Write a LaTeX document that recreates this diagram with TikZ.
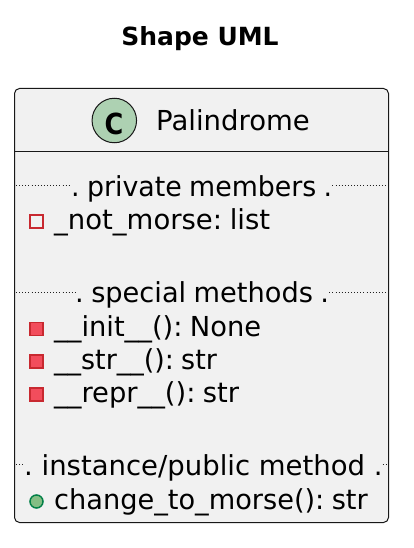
\documentclass[tikz,border=0pt]{standalone}
\usepackage{fontspec}
\setmainfont{DejaVu Sans}
\frenchspacing
\definecolor{boxfill}{HTML}{F1F1F1}
\definecolor{boxline}{HTML}{181818}
\definecolor{circfill}{HTML}{ADD1B2}
\definecolor{privline}{HTML}{C82930}
\definecolor{privfill}{HTML}{F24D5C}
\definecolor{publine}{HTML}{038048}
\definecolor{pubfill}{HTML}{84BE84}
\definecolor{dotc}{HTML}{202020}
\tikzset{
  x=1pt,y=-1pt,
  member/.style={anchor=base west,inner sep=0pt,font=\fontsize{27.5}{30}\selectfont,text=black},
  gap/.style={execute at begin node={\spaceskip=#1\relax}},
  dotline/.style={draw=dotc,line width=1.1pt,dash pattern=on 1pt off 2.1pt},
  privopen/.style={draw=privline,line width=1.5pt,fill=none,minimum size=13pt,inner sep=0pt},
  privfull/.style={draw=privline,line width=1.5pt,fill=privfill,minimum size=13pt,inner sep=0pt},
  pubdot/.style={draw=publine,line width=1.5pt,fill=pubfill,circle,minimum size=13pt,inner sep=0pt},
}
\begin{document}
\begin{tikzpicture}
\useasboundingbox (0,0) rectangle (414,548);
\fill[white] (0,0) rectangle (414,548);
\node[anchor=base,inner sep=0pt,font=\bfseries\fontsize{25}{30}\selectfont] (title) at (200,46) {Shape UML};
\draw[draw=boxline,fill=boxfill,line width=1pt,rounded corners=5pt] (14.5,88.5) rectangle (388.5,522.5);
\draw[draw=boxline,line width=1pt] (15,152) -- (388,152);
\node[circle,draw=boxline,fill=circfill,line width=1pt,minimum size=44.5pt,inner sep=0pt] (icon) at (114.3,120.5) {};
\node[anchor=center,inner sep=0pt,font=\bfseries\fontsize{29}{30}\selectfont,xscale=0.88,transform shape] (iconc) at (114,123.5) {C};
\node[member] (name) at (156,131) {Palindrome};
% private members
\node[member,gap=7.5pt,xscale=0.975,transform shape] (s1) at (71,196) {. private members .};
\coordinate (s1a) at (16,185.5);\coordinate (s1b) at (386,185.5);
\draw[dotline] (s1a) -- (s1.west |- s1a);
\draw[dotline] (s1.east |- s1b) -- (s1b);
\node[privopen] (m1i) at (36.5,221.5) {};
\node[member,gap=7.6pt] (m1) at (54,229) {\_not\_morse: list};
% special
\node[member,gap=7.5pt,xscale=0.99,transform shape] (s2) at (75,302) {. special methods .};
\coordinate (s2a) at (16,292.5);\coordinate (s2b) at (386,292.5);
\draw[dotline] (s2a) -- (s2.west |- s2a);
\draw[dotline] (s2.east |- s2b) -- (s2b);
\node[privfull] (m2i) at (36.5,329) {};
\node[member,gap=7.5pt,xscale=0.993,transform shape] (m2) at (54,336) {\_\_init\_\_(): None};
\node[privfull] (m3i) at (36.5,361.5) {};
\node[member,gap=7.5pt,xscale=0.98,transform shape] (m3) at (54,369) {\_\_str\_\_(): str};
\node[privfull] (m4i) at (36.5,394.5) {};
\node[member,gap=7.5pt,xscale=0.994,transform shape] (m4) at (54,402) {\_\_repr\_\_(): str};
% public
\node[member,gap=8.7pt] (s3) at (24,475) {. instance/public method .};
\coordinate (s3a) at (16,464.5);\coordinate (s3b) at (386,464.5);
\draw[dotline] (s3a) -- (s3.west |- s3a);
\draw[dotline] (s3.east |- s3b) -- (s3b);
\node[pubdot] (m5i) at (36.5,501.5) {};
\node[member,gap=7.5pt,xscale=0.989,transform shape] (m5) at (54,509) {change\_to\_morse(): str};
\end{tikzpicture}
\end{document}
